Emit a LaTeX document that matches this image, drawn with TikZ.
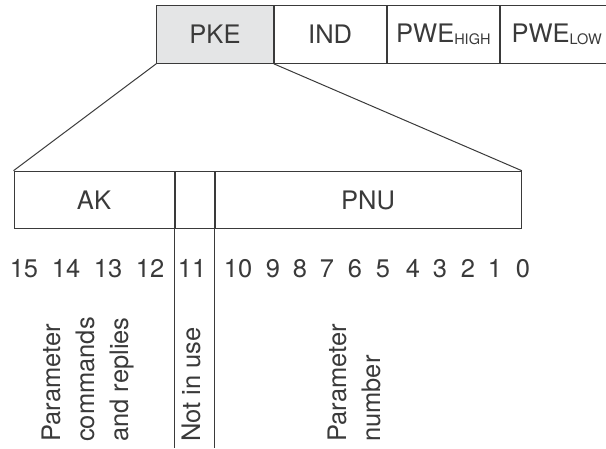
\documentclass[tikz,border=0pt]{standalone}
\usepackage{fontspec}
\setmainfont{TeX Gyre Heros}
\usepackage{xcolor}
\usetikzlibrary{positioning}
\definecolor{inkgray}{HTML}{3A3A3A}
\definecolor{pkegray}{HTML}{E4E5E6}

\tikzset{
  field/.style={draw=inkgray, line width=1pt, inner sep=0pt, minimum height=57.6pt, text=inkgray},
  bitnum/.style={anchor=base, inner sep=0pt, text=inkgray},
  vlabel/.style={rotate=90, anchor=base west, align=left, inner sep=0pt, text=inkgray}
}
\newcommand{\subtxt}[1]{\raisebox{-2.5pt}{\fontsize{14.5}{14.5}\selectfont #1}}

\begin{document}
\begin{tikzpicture}[x=1pt, y=-1pt, font=\fontsize{25.5}{34}\selectfont]
    \useasboundingbox (0,0) rectangle (606,448);
    \coordinate (bottom) at (0,448);

    % parameter message fields
    \node[field, fill=pkegray, minimum width=116.6pt] (pke) at (215,34.5) {PKE};
    \node[field, minimum width=111.7pt, right=0pt of pke] (ind) {IND};
    \node[field, minimum width=112.7pt, right=0pt of ind] (pwehigh) {PWE\subtxt{HIGH}};
    \node[field, minimum width=112pt, right=0pt of pwehigh] (pwelow) {PWE\subtxt{LOW}};

    % PKE broken down
    \node[field, minimum width=160pt] (ak) at (94,200) {AK};
    \node[field, minimum width=39pt, right=0pt of ak] (nu) {};
    \node[field, minimum width=306.3pt, right=0pt of nu] (pnu) {PNU};

    \draw[inkgray, line width=1pt] (pke.south west) -- (ak.north west);
    \draw[inkgray, line width=1pt] (pke.south east) -- (pnu.north east);
    \draw[inkgray, line width=1pt] (nu.south west) -- (nu.south west |- bottom);
    \draw[inkgray, line width=1pt] (nu.south east) -- (nu.south east |- bottom);

    % bit numbers
    \foreach \b/\x in {15/24, 14/66, 13/108, 12/150, 11/192, 10/238, 9/273, 8/300,
                       7/327, 6/355, 5/383, 4/413, 3/440, 2/468, 1/495, 0/523}
        \node[bitnum] (bit\b) at (\x,277) {\b};

    % meaning of the bits (anchored at the last line)
    \node[vlabel] (aktxt) at (128,442) {Parameter\\commands\\and replies};
    \node[vlabel] (nutxt) at (200,442) {Not in use};
    \node[vlabel] (pnutxt) at (380,442) {Parameter\\number};
\end{tikzpicture}
\end{document}
